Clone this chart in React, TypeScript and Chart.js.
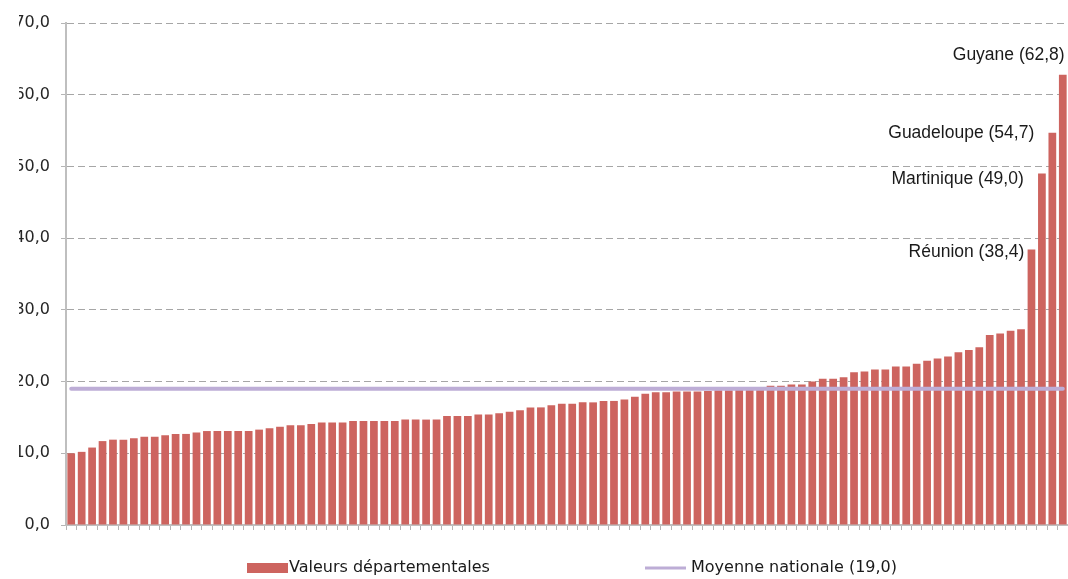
import React, { useEffect, useRef } from 'react';
import { Chart, registerables } from 'chart.js';

Chart.register(...registerables);

// Departmental values, sorted ascending
const valeursDepartementales: number[] = [
  10.0, 10.2, 10.8, 11.7, 11.9, 11.9, 12.1, 12.3, 12.3, 12.5,
  12.7, 12.7, 12.9, 13.1, 13.1, 13.1, 13.1, 13.1, 13.3, 13.5,
  13.7, 13.9, 13.9, 14.1, 14.3, 14.3, 14.3, 14.5, 14.5, 14.5,
  14.5, 14.5, 14.7, 14.7, 14.7, 14.7, 15.2, 15.2, 15.2, 15.4,
  15.4, 15.6, 15.8, 16.0, 16.4, 16.4, 16.7, 16.9, 16.9, 17.1,
  17.1, 17.3, 17.3, 17.5, 17.9, 18.3, 18.5, 18.5, 18.6, 18.6,
  18.6, 18.7, 18.8, 18.8, 18.9, 19.0, 19.2, 19.4, 19.4, 19.6,
  19.6, 20.0, 20.4, 20.4, 20.6, 21.3, 21.4, 21.7, 21.7, 22.1,
  22.1, 22.5, 22.9, 23.2, 23.5, 24.1, 24.4, 24.8, 26.5, 26.7,
  27.1, 27.3, 38.4, 49.0, 54.7, 62.8,
];

const departementsOutreMer: string[] = ['Réunion', 'Martinique', 'Guadeloupe', 'Guyane'];
const departementsMetropole: string[] = valeursDepartementales
  .slice(0, valeursDepartementales.length - departementsOutreMer.length)
  .map((_, i) => `Département ${i + 1}`);
const categories: string[] = [...departementsMetropole, ...departementsOutreMer];

const moyenneNationale = 19.0;
const yTicks: number[] = [0, 10, 20, 30, 40, 50, 60, 70];

const legendLabels = {
  bars: 'Valeurs départementales',
  line: `Moyenne nationale (${moyenneNationale.toFixed(1).replace('.', ',')})`,
};

// label placement styles (offset from the top-right corner of each bar)
const annotationStyle: Record<string, { dx: number; dy: number }> = {
  Guyane: { dx: -2, dy: -19 },
  Guadeloupe: { dx: -22, dy: 0 },
  Martinique: { dx: -22, dy: 6 },
  'Réunion': { dx: -11, dy: 3 },
};

const BAR_COLOR = '#CD645F';
const LINE_COLOR = '#BDADD6';
const fmt = (v: number) => v.toFixed(1).replace('.', ',');

const annotationPlugin = {
  id: 'domLabels',
  afterDatasetsDraw(chart: any) {
    const { ctx, scales } = chart;
    const meta = chart.getDatasetMeta(1);
    ctx.save();
    ctx.font = '17.5px "Liberation Sans", Arial, sans-serif';
    ctx.fillStyle = '#1a1a1a';
    ctx.textAlign = 'right';
    ctx.textBaseline = 'middle';
    departementsOutreMer.forEach((name) => {
      const idx = categories.indexOf(name);
      const el = meta.data[idx];
      const value = valeursDepartementales[idx];
      const st = annotationStyle[name];
      const x = el.x + el.width / 2 + st.dx;
      const y = scales.y.getPixelForValue(value) + st.dy;
      ctx.fillText(`${name} (${fmt(value)})`, x, y);
    });
    ctx.restore();
  },
};

const legendPlugin = {
  id: 'customLegend',
  afterDraw(chart: any) {
    const { ctx } = chart;
    const yc = 568;
    ctx.save();
    ctx.font = '16px "DejaVu Sans", Verdana, sans-serif';
    ctx.textBaseline = 'middle';
    ctx.textAlign = 'left';
    ctx.fillStyle = BAR_COLOR;
    ctx.fillRect(247, yc - 5, 41, 10);
    ctx.fillStyle = '#1a1a1a';
    ctx.fillText(legendLabels.bars, 289, yc);
    ctx.strokeStyle = LINE_COLOR;
    ctx.lineWidth = 3;
    ctx.beginPath();
    ctx.moveTo(645, yc);
    ctx.lineTo(686, yc);
    ctx.stroke();
    ctx.fillStyle = '#1a1a1a';
    ctx.fillText(legendLabels.line, 691, yc);
    ctx.restore();
  },
};

export default function App() {
  const canvasRef = useRef<HTMLCanvasElement | null>(null);

  useEffect(() => {
    if (!canvasRef.current) return;
    const chart = new Chart(canvasRef.current, {
      type: 'bar',
      data: {
        labels: categories,
        datasets: [
          {
            type: 'line',
            label: legendLabels.line,
            data: categories.map(() => moyenneNationale),
            borderColor: LINE_COLOR,
            backgroundColor: LINE_COLOR,
            borderWidth: 4,
            borderCapStyle: 'round',
            pointRadius: 0,
            pointHoverRadius: 0,
            fill: false,
            order: 0,
          } as any,
          {
            type: 'bar',
            label: legendLabels.bars,
            data: valeursDepartementales,
            backgroundColor: BAR_COLOR,
            borderWidth: 0,
            categoryPercentage: 1,
            barPercentage: 0.74,
            order: 1,
          } as any,
        ],
      },
      options: {
        animation: false,
        responsive: true,
        maintainAspectRatio: false,
        layout: { padding: { top: 23, right: 0, bottom: 49, left: 0 } },
        plugins: {
          legend: { display: false },
          tooltip: { enabled: false },
          title: { display: false },
        },
        scales: {
          x: {
            grid: {
              display: true,
              drawOnChartArea: false,
              drawTicks: true,
              tickLength: 5,
              tickColor: '#b5b5b5',
              offset: true,
            },
            border: { display: true, color: '#bfbfbf', width: 2 },
            ticks: { display: false },
          },
          y: {
            min: 0,
            max: 70,
            afterFit: (scale: any) => {
              scale.width = 66;
            },
            afterBuildTicks: (scale: any) => {
              scale.ticks = yTicks.map((v) => ({ value: v }));
            },
            grid: {
              color: '#a6a6a6',
              lineWidth: 1,
              drawTicks: true,
              tickLength: 5,
              tickColor: '#b5b5b5',
              tickBorderDash: [],
            },
            border: { display: true, color: '#bfbfbf', width: 2, dash: [7, 4] },
            ticks: {
              padding: 11,
              color: '#262626',
              font: { family: '"DejaVu Sans", Verdana, sans-serif', size: 16 },
              callback: (v: any) => fmt(Number(v)),
            },
          },
        },
      },
      plugins: [annotationPlugin, legendPlugin],
    });
    return () => chart.destroy();
  }, []);

  return (
    <div style={{ position: 'absolute', left: 0, top: 0, width: 1068, height: 579, background: '#fff' }}>
      <div style={{ position: 'absolute', inset: 0, clipPath: 'inset(0px 0px 0px 19px)' }}>
        <canvas ref={canvasRef} />
      </div>
    </div>
  );
}
